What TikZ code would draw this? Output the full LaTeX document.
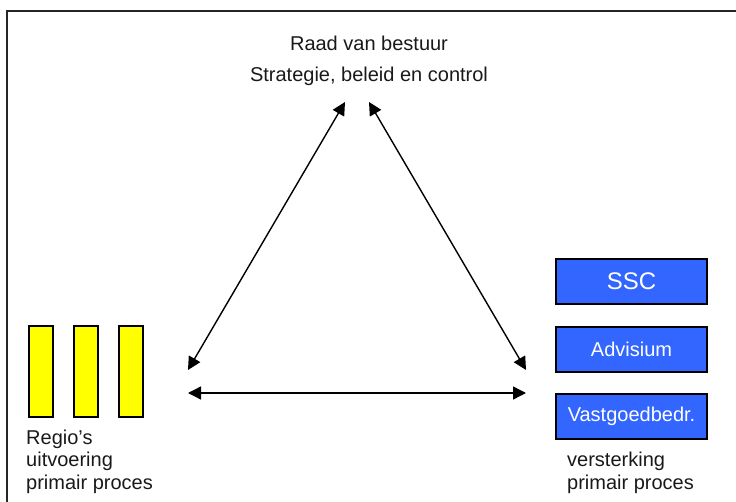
\documentclass[tikz,border=0pt]{standalone}
\usepackage{fontspec}
\setmainfont{Liberation Sans}
\usetikzlibrary{arrows.meta}
\definecolor{unitblue}{HTML}{3366FF}
\definecolor{baryellow}{HTML}{FFFF00}
\begin{document}
\begin{tikzpicture}[x=1pt,y=-1pt,
  bar/.style={draw=black, fill=baryellow, line width=1.4pt, minimum width=24pt, minimum height=91pt, inner sep=0pt},
  unit/.style={draw=black, fill=unitblue, line width=1.4pt, minimum width=151pt, minimum height=45pt, inner sep=0pt, text=white, font=\fontsize{20}{24}\selectfont},
  lbl/.style={font=\fontsize{20}{24}\selectfont, inner sep=0pt, text=black!90},
  link/.style={{Triangle[length=13pt,width=13pt]}-{Triangle[length=13pt,width=13pt]}, line width=1.4pt}]
\useasboundingbox (0,0) rectangle (736,502);
\draw[line width=2.6pt, black!85] (7,11) rectangle (760,530);
% top labels
\node[lbl, anchor=base] (raad) at (369,51) {Raad van bestuur};
\node[lbl, anchor=base] (strat) at (369,82) {Strategie, beleid en control};
% yellow bars
\node[bar] (b1) at (41,371.5) {};
\node[bar] (b2) at (86,371.5) {};
\node[bar] (b3) at (131,371.5) {};
\node[lbl, anchor=base west] (l1) at (26,444) {Regio’s};
\node[lbl, anchor=base west] (l2) at (26,466.5) {uitvoering};
\node[lbl, anchor=base west] (l3) at (26,489) {primair proces};
% blue units
\node[unit, font=\fontsize{24}{28}\selectfont] (ssc) at (631.5,281.5) {SSC};
\node[unit] (adv) at (631.5,349.5) {Advisium};
\node[unit] (vast) at (631.5,416.5) {Vastgoedbedr.};
\node[lbl, anchor=base west] (r1) at (567,466.5) {versterking};
\node[lbl, anchor=base west] (r2) at (567,489) {primair proces};
% arrows
\coordinate (topL) at (345,102);
\coordinate (topR) at (369,102);
\coordinate (leftA) at (188,370);
\coordinate (rightA) at (526,370);
\coordinate (leftB) at (188,393);
\coordinate (rightB) at (526,393);
\draw[link] (topL) -- (leftA);
\draw[link] (topR) -- (rightA);
\draw[link] (leftB) -- (rightB);
\end{tikzpicture}
\end{document}
